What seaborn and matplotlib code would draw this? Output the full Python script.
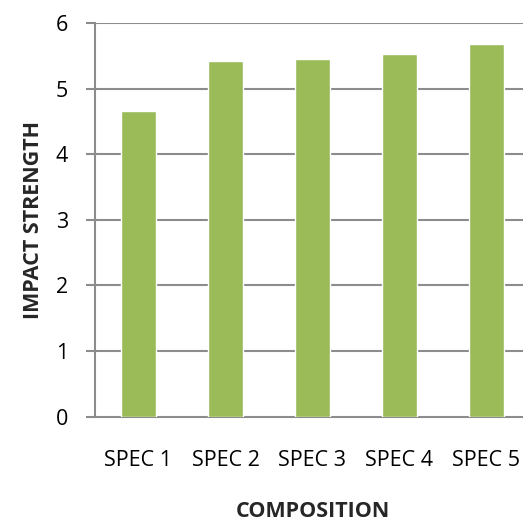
import matplotlib
matplotlib.use("Agg")
import matplotlib.pyplot as plt
import seaborn as sns
import pandas as pd

categories = ["SPEC 1", "SPEC 2", "SPEC 3", "SPEC 4", "SPEC 5"]
impact_strength = [4.66, 5.43, 5.46, 5.53, 5.69]
y_ticks = [0, 1, 2, 3, 4, 5, 6]

sns.set_theme(style="white")
plt.rcParams["font.family"] = ["Open Sans", "DejaVu Sans"]

df = pd.DataFrame({"composition": categories, "impact": impact_strength})

fig = plt.figure(figsize=(5.23, 5.22), dpi=100)
ax = fig.add_axes([0.1816, 0.2021, 0.8317, 0.7533])

grid_col = "#8c8c8c"
sns.barplot(data=df, x="composition", y="impact", color="#9bbb59",
            width=0.4, saturation=1, ax=ax, zorder=3)

ax.set_ylim(0, 6)
ax.set_xlim(-0.5, 4.5)
ax.set_yticks(y_ticks)
ax.set_yticklabels([str(t) for t in y_ticks])
for t in y_ticks[1:]:
    ax.axhline(t, color=grid_col, lw=1.5, zorder=1)

for side in ["top", "right"]:
    ax.spines[side].set_visible(False)
for side in ["left", "bottom"]:
    ax.spines[side].set_color(grid_col)
    ax.spines[side].set_linewidth(1.5)

ax.tick_params(axis="y", which="both", left=True, length=6.5, width=1.5,
               color=grid_col, pad=13, labelsize=15.5, labelcolor="black")
ax.tick_params(axis="x", bottom=False, pad=18, labelsize=15.5, labelcolor="black")

ax.set_xlabel("COMPOSITION", fontsize=15.5, fontweight="bold", labelpad=22)
ax.set_ylabel("IMPACT STRENGTH", fontsize=15.5, fontweight="bold", labelpad=8)

fig.savefig("out.png", dpi=100)
